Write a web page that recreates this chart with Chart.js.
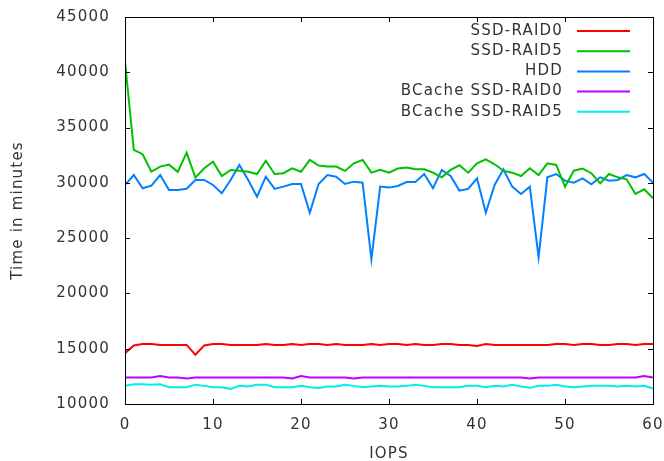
<!DOCTYPE html>
<html>
<head>
<meta charset="utf-8">
<script src="https://cdn.jsdelivr.net/npm/chart.js@4/dist/chart.umd.min.js"></script>
<style>
  html, body { margin: 0; padding: 0; background: #fff; }
  #wrap { width: 664px; height: 461px; position: relative; }
</style>
</head>
<body>
<div id="wrap"><canvas id="c"></canvas></div>
<script>
var iops = [0,1,2,3,4,5,6,7,8,9,10,11,12,13,14,15,16,17,18,19,20,
  21,22,23,24,25,26,27,28,29,30,31,32,33,34,35,36,37,38,39,40,
  41,42,43,44,45,46,47,48,49,50,51,52,53,54,55,56,57,58,59,60];

var ssdRaid0 = [14600,15300,15420,15420,15340,15340,15340,15340,14450,15300,15420,15420,15340,15340,15340,15340,15420,15340,15340,15420,15340,
  15420,15420,15340,15420,15340,15340,15340,15420,15340,15420,15420,15340,15420,15340,15340,15420,15420,15340,15340,15250,
  15420,15340,15340,15340,15340,15340,15340,15340,15420,15420,15340,15420,15420,15340,15340,15420,15420,15340,15420,15420];

var ssdRaid5 = [40960,32980,32590,31010,31470,31650,31000,32730,30470,31320,31920,30620,31170,31100,31010,30800,32000,30800,30870,31320,31000,
  32070,31560,31470,31470,31080,31770,32070,30920,31170,30920,31290,31380,31230,31230,30920,30500,31170,31590,30920,31770,
  32130,31680,31100,30920,30620,31320,30710,31770,31620,29660,31100,31290,30870,29960,30800,30500,30320,29000,29420,28610];

var hdd = [29810,30710,29510,29750,30710,29360,29360,29470,30260,30260,29810,29060,30260,31620,30260,28750,30560,29450,29660,29900,29900,
  27300,29900,30710,30560,29900,30110,30020,23090,29660,29570,29720,30080,30080,30800,29510,31170,30620,29300,29450,30410,
  27300,29810,31230,29660,29000,29660,23270,30500,30800,30200,30020,30410,29870,30500,30200,30260,30710,30500,30800,30020];

var bcacheRaid0 = [12400,12400,12400,12400,12530,12400,12400,12300,12400,12400,12400,12400,12400,12400,12400,12400,12400,12400,12400,12300,12530,
  12400,12400,12400,12400,12400,12300,12400,12400,12400,12400,12400,12400,12400,12400,12400,12400,12400,12400,12400,12400,
  12400,12400,12400,12400,12400,12300,12400,12400,12400,12400,12400,12400,12400,12400,12400,12400,12400,12400,12530,12400];

var bcacheRaid5 = [11640,11790,11790,11750,11790,11520,11520,11520,11750,11640,11520,11520,11370,11640,11580,11750,11750,11520,11520,11520,11640,
  11520,11450,11580,11580,11750,11640,11520,11580,11640,11580,11580,11640,11750,11640,11520,11520,11520,11520,11640,11640,
  11520,11640,11580,11750,11580,11460,11640,11640,11750,11580,11520,11580,11640,11640,11640,11580,11640,11580,11640,11400];

var seriesNames = ['SSD-RAID0', 'SSD-RAID5', 'HDD', 'BCache SSD-RAID0', 'BCache SSD-RAID5'];
var seriesColors = ['#ff0000', '#00c000', '#0080ff', '#c000ff', '#00eeee'];
var seriesData = [ssdRaid0, ssdRaid5, hdd, bcacheRaid0, bcacheRaid5];

var FONT = 'DejaVu Sans';
var TXT = '#333333';
var SPACING = '1.2px';

// gnuplot text is a little wider than the canvas default
var spacing = {
  id: 'spacing',
  beforeLayout: function(chart) { chart.ctx.letterSpacing = SPACING; },
  beforeDraw: function(chart) { chart.ctx.letterSpacing = SPACING; }
};

// gnuplot style: box around plot, ticks pointing inward on all four sides, legend at top right
var frame = {
  id: 'frame',
  afterDraw: function(chart) {
    var c = chart.ctx, a = chart.chartArea;
    var xs = chart.scales.x, ys = chart.scales.y;
    c.save();
    c.strokeStyle = '#000';
    c.lineWidth = 1;
    c.strokeRect(a.left + 0.5, a.top + 0.5, a.right - a.left, a.bottom - a.top);
    c.beginPath();
    xs.ticks.forEach(function(t) {
      var px = Math.round(xs.getPixelForValue(t.value)) + 0.5;
      c.moveTo(px, a.bottom); c.lineTo(px, a.bottom - 5);
      c.moveTo(px, a.top); c.lineTo(px, a.top + 5);
    });
    ys.ticks.forEach(function(t) {
      var py = Math.round(ys.getPixelForValue(t.value)) + 0.5;
      c.moveTo(a.left, py); c.lineTo(a.left + 5, py);
      c.moveTo(a.right, py); c.lineTo(a.right - 5, py);
    });
    c.stroke();

    // legend
    c.letterSpacing = SPACING;
    c.font = '15px ' + FONT;
    c.textAlign = 'right';
    c.textBaseline = 'middle';
    chart.data.datasets.forEach(function(ds, i) {
      var y = 31 + i * 20.2;
      c.fillStyle = TXT;
      c.fillText(ds.label, 563, y);
      c.strokeStyle = ds.borderColor;
      c.lineWidth = 2;
      c.beginPath();
      c.moveTo(577, y); c.lineTo(630, y);
      c.stroke();
    });
    c.restore();
  }
};

function plain(v) { return String(v); }

new Chart(document.getElementById('c'), {
  type: 'line',
  data: {
    labels: iops,
    datasets: seriesData.map(function(d, i) {
      return { label: seriesNames[i], data: d, borderColor: seriesColors[i], backgroundColor: seriesColors[i],
        borderWidth: 2, pointRadius: 0, tension: 0, fill: false };
    })
  },
  plugins: [spacing, frame],
  options: {
    responsive: true, maintainAspectRatio: false, animation: false,
    layout: { padding: { top: 17, right: 11, left: 0, bottom: 0 } },
    plugins: { legend: { display: false }, tooltip: { enabled: false } },
    scales: {
      x: {
        type: 'linear', min: 0, max: 60,
        grid: { display: false, drawTicks: false }, border: { display: false },
        ticks: { stepSize: 10, padding: 12, color: TXT, font: { family: FONT, size: 15 }, callback: plain },
        title: { display: true, text: 'IOPS', color: TXT, font: { family: FONT, size: 15 }, padding: { top: 4, bottom: -2 } },
        afterFit: function(s) { s.height = 57; s.paddingLeft = 0; s.paddingRight = 0; }
      },
      y: {
        min: 10000, max: 45000,
        grid: { display: false, drawTicks: false }, border: { display: false },
        ticks: { stepSize: 5000, padding: 15, color: TXT, font: { family: FONT, size: 15 }, callback: plain },
        title: { display: true, text: 'Time in minutes', color: TXT, font: { family: FONT, size: 15 }, padding: { top: 9, bottom: 0 } },
        afterFit: function(s) { s.width = 125; s.paddingTop = 0; s.paddingBottom = 0; }
      }
    }
  }
});
</script>
</body>
</html>
